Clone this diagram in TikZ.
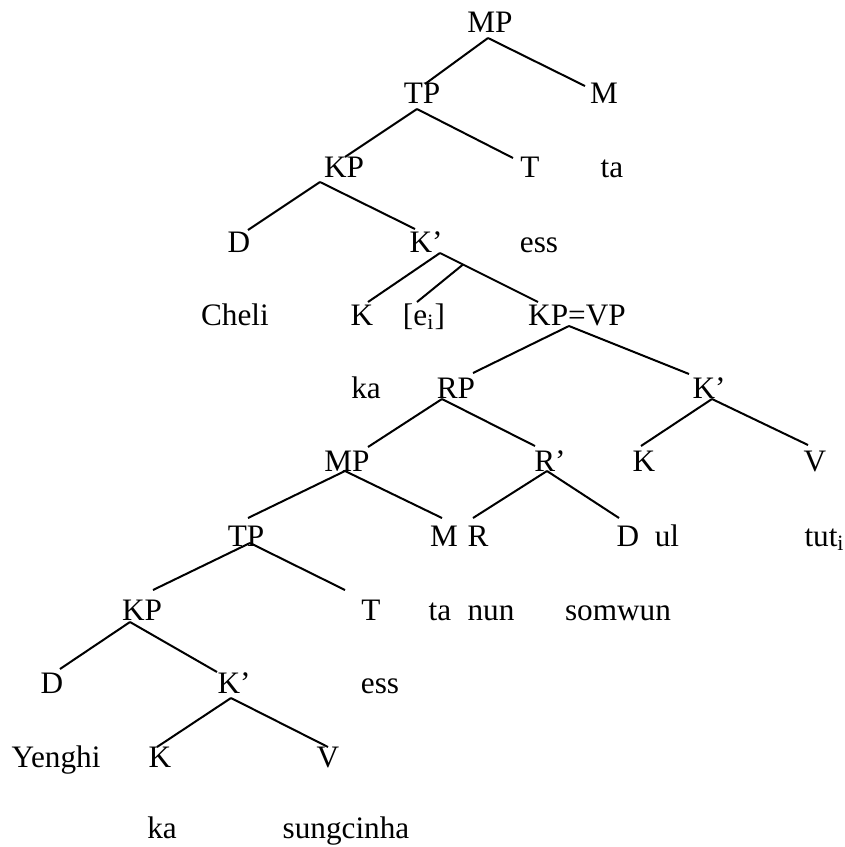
\documentclass[tikz,border=0pt]{standalone}
\usepackage{fontspec}
\setmainfont{Liberation Serif}
\begin{document}
\begin{tikzpicture}[
  x=0.4pt, y=-0.4pt,
  font=\fontsize{12.5}{15}\selectfont,
  cat/.style ={anchor=base, inner sep=0pt},
  word/.style={anchor=base, inner sep=0pt},
  br/.style  ={line width=0.8pt},
]
\useasboundingbox (0,0) rectangle (845,847);

% --- matrix clause ---
\node[cat]  (mpA)   at (490,32)  {MP};
\node[cat]  (tpA)   at (422,103) {TP};
\node[cat]  (mA)    at (604,103) {M};
\node[cat]  (kpA)   at (344,177) {KP};
\node[cat]  (tA)    at (530,177) {T};
\node[word] (taA)   at (612,177) {ta};
\node[cat]  (dA)    at (239,252) {D};
\node[cat]  (kbA)   at (426,252) {K’};
\node[word] (essA)  at (539,252) {ess};
\node[word] (cheli) at (235,325) {Cheli};
\node[cat]  (kA)    at (362,325) {K};
\node[word] (ei)    at (424,325) {[e\textsubscript{i}]};
\node[cat]  (kpvp)  at (577,325) {KP=VP};

% --- KP=VP ---
\node[word] (kaA)   at (366,398) {ka};
\node[cat]  (rp)    at (456,398) {RP};
\node[cat]  (kbB)   at (709,398) {K’};
\node[cat]  (mpB)   at (347,471) {MP};
\node[cat]  (rb)    at (550,471) {R’};
\node[cat]  (kB)    at (644,471) {K};
\node[cat]  (vA)    at (815,471) {V};
\node[cat]  (mB)    at (444,546) {M};
\node[cat]  (r)     at (478,546) {R};
\node[cat]  (dB)    at (628,546) {D};
\node[word] (ul)    at (667,546) {ul};
\node[word, anchor=base west] (tut) at (804,546) {tut\textsubscript{i}};

% --- embedded clause ---
\node[cat]  (tpB)   at (246,546) {TP};
\node[cat]  (kpB)   at (142,620) {KP};
\node[cat]  (tB)    at (371,620) {T};
\node[word] (taB)   at (440,620) {ta};
\node[word] (nun)   at (491,620) {nun};
\node[word] (somwun) at (618,620) {somwun};
\node[cat]  (dC)    at (52,693)  {D};
\node[cat]  (kbC)   at (234,693) {K’};
\node[word] (essB)  at (380,693) {ess};
\node[word] (yenghi) at (56,767) {Yenghi};
\node[cat]  (kC)    at (160,767) {K};
\node[cat]  (vB)    at (328,767) {V};
\node[word] (kaB)   at (162,838) {ka};
\node[word] (sungcinha) at (346,838) {sungcinha};

% --- branches, matrix clause ---
\draw[br] ([shift={(-2,6)}]mpA.base) -- ([shift={(3,-19)}]tpA.base);
\draw[br] ([shift={(-2,6)}]mpA.base) -- ([shift={(-19,-17)}]mA.base);
\draw[br] ([shift={(-5,6)}]tpA.base) -- ([shift={(1,-20)}]kpA.base);
\draw[br] ([shift={(-5,6)}]tpA.base) -- ([shift={(-17,-19)}]tA.base);
\draw[br] ([shift={(-24,5)}]kpA.base) -- ([shift={(9,-22)}]dA.base);
\draw[br] ([shift={(-24,5)}]kpA.base) -- ([shift={(-11,-23)}]kbA.base);
\draw[br] ([shift={(14,1)}]kbA.base) -- ([shift={(6,-23)}]kA.base);
\draw[br] ([shift={(14,1)}]kbA.base) -- coordinate[pos=0.235] (kbmid)
  ([shift={(-39,-23)}]kpvp.base);
\draw[br] (kbmid) -- ([shift={(-7,-23)}]ei.base);

% --- branches, KP=VP ---
\draw[br] ([shift={(-8,1)}]kpvp.base) -- ([shift={(17,-25)}]rp.base);
\draw[br] ([shift={(-8,1)}]kpvp.base) -- ([shift={(-20,-24)}]kbB.base);
\draw[br] ([shift={(-14,1)}]rp.base) -- ([shift={(21,-24)}]mpB.base);
\draw[br] ([shift={(-14,1)}]rp.base) -- ([shift={(-15,-25)}]rb.base);
\draw[br] ([shift={(3,1)}]kbB.base) -- ([shift={(-3,-25)}]kB.base);
\draw[br] ([shift={(3,1)}]kbB.base) -- ([shift={(-7,-26)}]vA.base);
\draw[br] ([shift={(-2,0)}]mpB.base) -- ([shift={(2,-28)}]tpB.base);
\draw[br] ([shift={(-2,0)}]mpB.base) -- ([shift={(-2,-28)}]mB.base);
\draw[br] ([shift={(-3,0)}]rb.base) -- ([shift={(-5,-28)}]r.base);
\draw[br] ([shift={(-3,0)}]rb.base) -- ([shift={(-9,-28)}]dB.base);

% --- branches, embedded clause ---
\draw[br] ([shift={(4,-3)}]tpB.base) -- ([shift={(11,-30)}]kpB.base);
\draw[br] ([shift={(4,-3)}]tpB.base) -- ([shift={(-26,-30)}]tB.base);
\draw[br] ([shift={(-12,2)}]kpB.base) -- ([shift={(8,-24)}]dC.base);
\draw[br] ([shift={(-12,2)}]kpB.base) -- ([shift={(-17,-21)}]kbC.base);
\draw[br] ([shift={(-3,5)}]kbC.base) -- ([shift={(-3,-20)}]kC.base);
\draw[br] ([shift={(-3,5)}]kbC.base) -- ([shift={(0,-20)}]vB.base);
\end{tikzpicture}
\end{document}
